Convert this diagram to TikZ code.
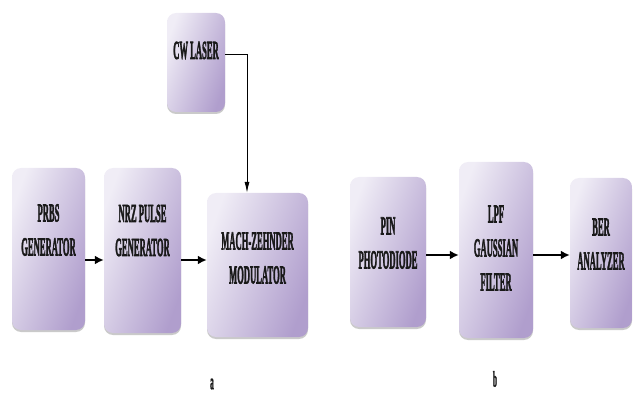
\documentclass[tikz,border=0pt]{standalone}
\usepackage{tikz}
\usepackage{xcolor}
\usepackage{fontspec}
\setmainfont{Liberation Serif}
\newfontfamily\lblfont{Liberation Serif Bold}[FakeBold=3]
\usetikzlibrary{arrows.meta,shadows}

\definecolor{boxlight}{RGB}{240,237,246}
\definecolor{boxdark}{RGB}{176,158,205}
\newcommand{\cnd}[1]{\scalebox{0.33}[1]{#1}}

\begin{document}
\begin{tikzpicture}[x=1pt,y=-1pt,
  blk/.style={rounded corners=9pt,left color=boxlight,right color=boxdark,shading angle=70,
    drop shadow={shadow xshift=0pt,shadow yshift=-2pt,fill=black!35,opacity=.6}},
  txt/.style={align=center,font=\fontsize{26}{34}\selectfont\lblfont,text=black!90},
  thk/.style={line width=2.6pt,-{Latex[length=9pt,width=9pt]}},
  thn/.style={line width=0.9pt,-{Latex[length=11pt,width=5pt]}}]
\useasboundingbox (0,0) rectangle (633,404);
% transmitter
\node [blk,minimum width=58pt,minimum height=99pt,
  label={[txt,yshift=12pt]center:\cnd{CW LASER}}] (laser) at (196,62.5) {};
\node [blk,minimum width=73pt,minimum height=162pt,
  label={[txt,yshift=19pt]center:\cnd{PRBS}\\\cnd{GENERATOR}}] (prbs) at (48.5,249) {};
\node [blk,minimum width=77pt,minimum height=165pt,
  label={[txt,yshift=20pt]center:\cnd{NRZ PULSE}\\\cnd{GENERATOR}}] (nrz) at (142.5,250.5) {};
\node [blk,minimum width=101pt,minimum height=144pt,
  label={[txt,yshift=7pt]center:\cnd{MACH-ZEHNDER}\\\cnd{MODULATOR}}] (mzm) at (257.5,265) {};
% receiver
\node [blk,minimum width=76pt,minimum height=150pt,
  label={[txt,yshift=9pt]center:\cnd{PIN}\\\cnd{PHOTODIODE}}] (pin) at (388,252) {};
\node [blk,minimum width=74pt,minimum height=176pt,
  label={[txt,yshift=2pt]center:\cnd{LPF}\\\cnd{GAUSSIAN}\\\cnd{FILTER}}] (lpf) at (496,250) {};
\node [blk,minimum width=62pt,minimum height=150pt,
  label={[txt,yshift=9pt]center:\cnd{BER}\\\cnd{ANALYZER}}] (ber) at (601,253) {};

\draw [thk] (prbs.east |- 0,260) -- (nrz.west |- 0,260);
\draw [thk] (nrz.east |- 0,260) -- (mzm.west |- 0,260);
\draw [thn] (laser.east |- 0,54) -| (247,0 |- mzm.north);
\draw [thk] (pin.east |- 0,255) -- (lpf.west |- 0,255);
\draw [thk] (lpf.east |- 0,255) -- (ber.west |- 0,255);

\node [txt,font=\fontsize{22}{22}\selectfont\lblfont] (la) at (212,384) {\cnd{a}};
\node [txt,font=\fontsize{22}{22}\selectfont\lblfont] (lb) at (495,379) {\cnd{b}};
\end{tikzpicture}
\end{document}
